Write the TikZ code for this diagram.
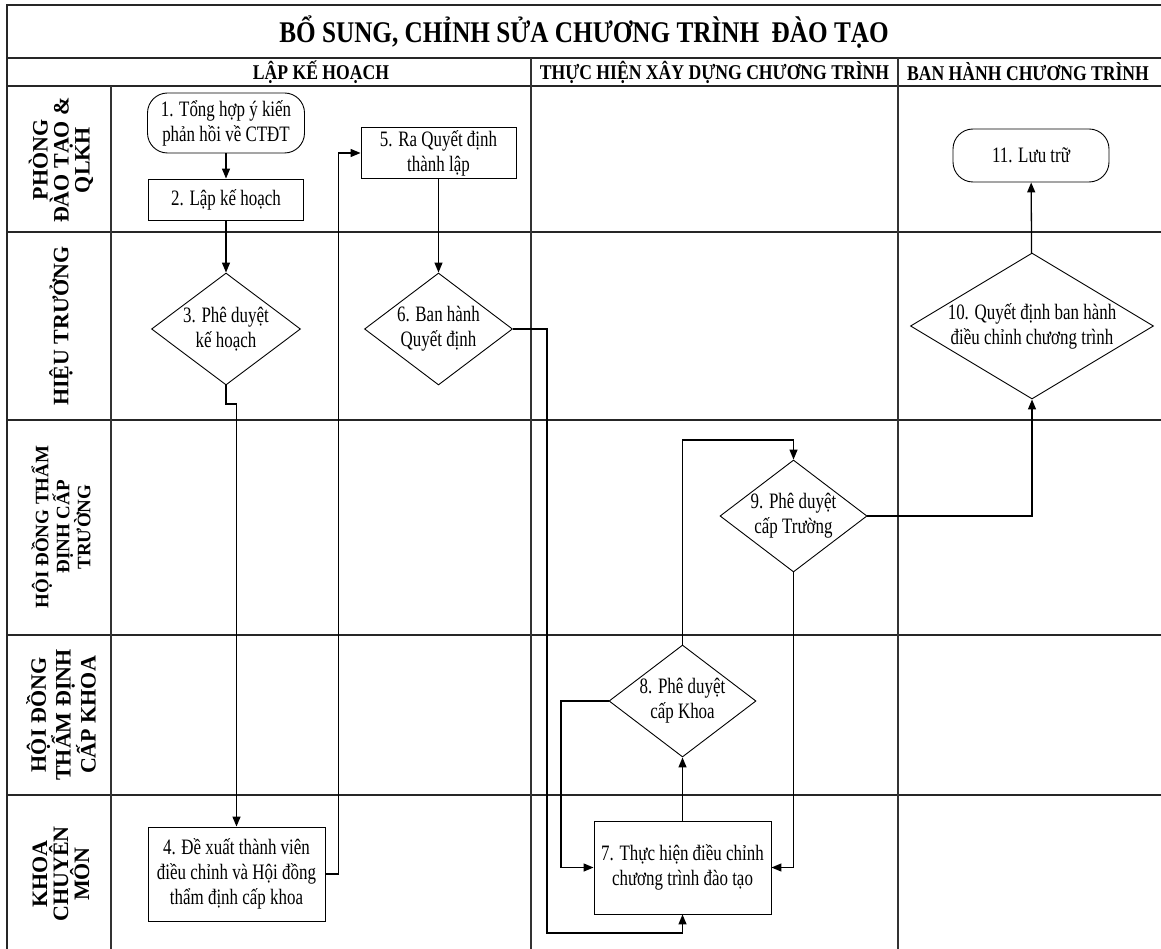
\documentclass[tikz,border=0pt]{standalone}
\usepackage{fontspec}
\setmainfont{Liberation Serif}
\newfontfamily\condfont{Liberation Serif}[FakeStretch=0.84]
\newfontfamily\narrowfont{Liberation Serif}[FakeStretch=0.77]
\usetikzlibrary{arrows.meta,shapes.geometric}
\begin{document}
\begin{tikzpicture}[x=1pt,y=-1pt,
  frame/.style={line width=1.6pt, draw=black!85},
  vline/.style={line width=1.2pt, draw=black!80},
  boxtext/.style={font=\narrowfont\fontsize{22}{25}\selectfont},
  proc/.style={draw, line width=0.9pt, rectangle, inner sep=0pt, align=center, boxtext},
  term/.style={proc, rounded corners=20pt},
  dec/.style={draw, line width=0.9pt, diamond, inner sep=0pt},
  dtext/.style={align=center, boxtext, inner sep=0pt},
  conn/.style={line width=1.3pt, -{Triangle[length=10pt,width=8pt]}},
  lanelbl/.style={rotate=90, align=center, inner sep=0pt, font=\bfseries\fontsize{22}{21}\selectfont},
  phase/.style={inner sep=0pt, font=\condfont\bfseries\fontsize{21}{24}\selectfont},
  titletext/.style={inner sep=0pt, font=\condfont\bfseries\fontsize{30}{34}\selectfont},
]
\useasboundingbox (0,0) rectangle (1161,949);
\clip (0,0) rectangle (1161,949);

% frame
\draw[frame] (7,949) -- (7,5) -- (1161,5);
\draw[frame] (7,58) -- (1161,58);
\draw[frame] (7,86) -- (1161,86);
\draw[frame] (7,232) -- (1161,232);
\draw[frame] (7,420) -- (1161,420);
\draw[frame] (7,635) -- (1161,635);
\draw[frame] (7,795) -- (1161,795);
\draw[vline] (111,86) -- (111,949);
\draw[vline] (531,58) -- (531,949);
\draw[vline] (898,58) -- (898,949);

% titles
\node[titletext] (title) at (584,32) {BỔ SUNG, CHỈNH SỬA CHƯƠNG TRÌNH\ \ ĐÀO TẠO};
\node[phase] (ph1) at (321,72) {LẬP KẾ HOẠCH};
\node[phase] (ph2) at (714.5,72) {THỰC HIỆN XÂY DỰNG CHƯƠNG TRÌNH};
\node[phase] (ph3) at (1028,72) {BAN HÀNH CHƯƠNG TRÌNH};

% lane labels
\node[lanelbl] (l1) at (61,160) {PHÒNG\\ĐÀO TẠO \&\\QLKH};
\node[lanelbl] (l2) at (61,326) {HIỆU TRƯỞNG};
\node[lanelbl, font=\bfseries\fontsize{19}{21}\selectfont] (l3) at (61,527) {HỘI ĐỒNG THẨM\\ĐỊNH CẤP\\TRƯỜNG};
\node[lanelbl] (l4) at (61,715) {HỘI ĐỒNG\\THẨM ĐỊNH\\CẤP KHOA};
\node[lanelbl] (l5) at (61,874) {KHOA\\CHUYÊN\\MÔN};

% nodes
\node[term, minimum width=157pt, minimum height=60pt] (n1) at (226,123) {1. Tổng hợp ý kiến\\phản hồi về CTĐT};
\node[proc, minimum width=155pt, minimum height=41pt] (n2) at (226,199.5) {2. Lập kế hoạch};
\node[dec, minimum width=149pt, minimum height=112pt,
  label={[dtext]center:3. Phê duyệt\\kế hoạch}] (n3) at (226,329) {};
\node[proc, minimum width=177pt, minimum height=94pt] (n4) at (236.5,874) {4. Đề xuất thành viên\\điều chỉnh và Hội đồng\\thẩm định cấp khoa};
\node[proc, minimum width=155pt, minimum height=51pt] (n5) at (438.5,153) {5. Ra Quyết định\\thành lập};
\node[dec, minimum width=148pt, minimum height=112pt,
  label={[dtext]center:6. Ban hành\\Quyết định}] (n6) at (438.5,329) {};
\node[proc, minimum width=177pt, minimum height=93pt] (n7) at (682.5,867.5) {7. Thực hiện điều chỉnh\\chương trình đào tạo};
\node[dec, minimum width=147pt, minimum height=112pt,
  label={[dtext]center:8. Phê duyệt\\cấp Khoa}] (n8) at (682.5,701) {};
\node[dec, minimum width=147pt, minimum height=112pt,
  label={[dtext]center:9. Phê duyệt\\cấp Trường}] (n9) at (793.5,516) {};
\node[dec, minimum width=243pt, minimum height=146pt,
  label={[dtext]center:10. Quyết định ban hành\\điều chỉnh chương trình}] (n10) at (1032,326) {};
\node[term, minimum width=156pt, minimum height=53pt] (n11) at (1031,155.5) {11. Lưu trữ};

% helper coordinates
\coordinate (c3) at (226,404);
\coordinate (c4) at (338.5,874);
\coordinate (c6) at (547,933);
\coordinate (c8) at (561,867.5);
\coordinate (c9) at (682.5,440);

% connectors
\draw[conn] (n1) -- (n2);
\draw[conn] (n2) -- (n3);
\draw[conn] (n3.south) -- (c3) -| (n4.north);
\draw[conn] (n4.east) -- (c4) |- (n5.west);
\draw[conn] (n5) -- (n6);
\draw[conn] (n6.east) -| (c6) -| (n7.south);
\draw[conn] (n7) -- (n8);
\draw[conn] (n8.west) -| (c8) -- (n7.west);
\draw[conn] (n8.north) -- (c9) -| (n9.north);
\draw[conn] (n9.south) |- (n7.east);
\draw[conn] (n9.east) -| (n10.south);
\draw[conn] (n10) -- (n11);
\end{tikzpicture}
\end{document}
